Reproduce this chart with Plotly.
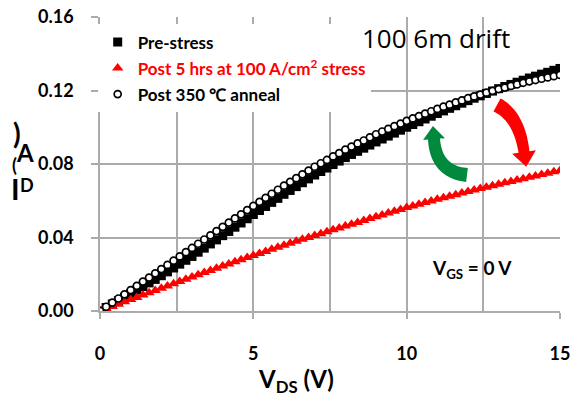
import plotly.graph_objects as go

# ---------------- data ----------------
vds = [0.0, 0.2, 0.4, 0.6, 0.8, 1.0, 1.2, 1.4, 1.6, 1.8,
       2.0, 2.2, 2.4, 2.6, 2.8, 3.0, 3.2, 3.4, 3.6, 3.8,
       4.0, 4.2, 4.4, 4.6, 4.8, 5.0, 5.2, 5.4, 5.6, 5.8,
       6.0, 6.2, 6.4, 6.6, 6.8, 7.0, 7.2, 7.4, 7.6, 7.8,
       8.0, 8.2, 8.4, 8.6, 8.8, 9.0, 9.2, 9.4, 9.6, 9.8,
       10.0, 10.2, 10.4, 10.6, 10.8, 11.0, 11.2, 11.4, 11.6, 11.8,
       12.0, 12.2, 12.4, 12.6, 12.8, 13.0, 13.2, 13.4, 13.6, 13.8,
       14.0, 14.2, 14.4, 14.6, 14.8, 15.0]

pre_stress = [0.0000, 0.0019, 0.0038, 0.0056, 0.0075, 0.0094, 0.0114, 0.0133, 0.0153, 0.0172,
              0.0192, 0.0213, 0.0234, 0.0255, 0.0276, 0.0297, 0.0320, 0.0342, 0.0365, 0.0387,
              0.0410, 0.0433, 0.0456, 0.0479, 0.0502, 0.0525, 0.0547, 0.0569, 0.0591, 0.0613,
              0.0635, 0.0656, 0.0677, 0.0698, 0.0719, 0.0740, 0.0759, 0.0778, 0.0797, 0.0816,
              0.0835, 0.0852, 0.0869, 0.0886, 0.0903, 0.0920, 0.0936, 0.0952, 0.0968, 0.0984,
              0.1000, 0.1015, 0.1030, 0.1045, 0.1060, 0.1075, 0.1089, 0.1103, 0.1117, 0.1131,
              0.1145, 0.1158, 0.1171, 0.1184, 0.1197, 0.1210, 0.1222, 0.1233, 0.1245, 0.1256,
              0.1268, 0.1278, 0.1289, 0.1299, 0.1310, 0.1320]

post_stress = [0.0000, 0.0012, 0.0025, 0.0037, 0.0050, 0.0062, 0.0074, 0.0087, 0.0099, 0.0112,
               0.0124, 0.0136, 0.0148, 0.0161, 0.0173, 0.0185, 0.0197, 0.0209, 0.0221, 0.0233,
               0.0245, 0.0256, 0.0268, 0.0279, 0.0291, 0.0302, 0.0313, 0.0324, 0.0336, 0.0347,
               0.0358, 0.0369, 0.0379, 0.0390, 0.0400, 0.0411, 0.0421, 0.0431, 0.0442, 0.0452,
               0.0462, 0.0472, 0.0482, 0.0493, 0.0503, 0.0513, 0.0523, 0.0533, 0.0543, 0.0553,
               0.0563, 0.0572, 0.0581, 0.0590, 0.0599, 0.0608, 0.0616, 0.0625, 0.0633, 0.0642,
               0.0650, 0.0658, 0.0666, 0.0674, 0.0682, 0.0690, 0.0698, 0.0705, 0.0713, 0.0720,
               0.0728, 0.0735, 0.0743, 0.0750, 0.0758, 0.0765]

post_anneal = [0.0000, 0.0023, 0.0046, 0.0068, 0.0091, 0.0114, 0.0137, 0.0160, 0.0182, 0.0205,
               0.0228, 0.0251, 0.0274, 0.0297, 0.0320, 0.0343, 0.0366, 0.0389, 0.0412, 0.0435,
               0.0458, 0.0481, 0.0504, 0.0526, 0.0549, 0.0572, 0.0594, 0.0616, 0.0638, 0.0660,
               0.0682, 0.0703, 0.0723, 0.0744, 0.0764, 0.0785, 0.0804, 0.0822, 0.0841, 0.0859,
               0.0878, 0.0895, 0.0912, 0.0928, 0.0945, 0.0962, 0.0977, 0.0991, 0.1006, 0.1020,
               0.1035, 0.1048, 0.1061, 0.1074, 0.1087, 0.1100, 0.1112, 0.1123, 0.1135, 0.1146,
               0.1158, 0.1168, 0.1178, 0.1188, 0.1198, 0.1208, 0.1216, 0.1225, 0.1233, 0.1242,
               0.1250, 0.1257, 0.1264, 0.1271, 0.1278, 0.1285]

x_ticks = [0, 5, 10, 15]
y_ticks = [0.00, 0.04, 0.08, 0.12, 0.16]
y_tick_text = ["0.00", "0.04", "0.08", "0.12", "0.16"]

names = ["Pre-stress",
         '<span style="color:#ff0000">Post 5 hrs at 100 A/cm<sup>2</sup> stress</span>',
         "Post 350 \u2103 anneal"]

# ---------------- layout helpers ----------------
W, H = 571, 399
L, R, T, B = 100, 560, 17, 311
GRID = "#ababab"
FONT = "Lato"


def px(x, y):
    return (x - L) / (R - L), (B - y) / (B - T)


def bez(p0, p1, p2, n=24):
    pts = []
    for i in range(n + 1):
        t = i / n
        x = (1 - t) ** 2 * p0[0] + 2 * (1 - t) * t * p1[0] + t ** 2 * p2[0]
        y = (1 - t) ** 2 * p0[1] + 2 * (1 - t) * t * p1[1] + t ** 2 * p2[1]
        pts.append((x, y))
    return pts


def arrow_path(p0, p1, p2, w0, w1, head_w, head_len):
    pts = bez(p0, p1, p2)
    left, right = [], []
    n = len(pts)
    for i, (x, y) in enumerate(pts):
        if i < n - 1:
            dx, dy = pts[i + 1][0] - x, pts[i + 1][1] - y
        else:
            dx, dy = x - pts[i - 1][0], y - pts[i - 1][1]
        d = (dx * dx + dy * dy) ** 0.5
        nx, ny = -dy / d, dx / d
        w = (w0 + (w1 - w0) * i / (n - 1)) / 2
        left.append((x + nx * w, y + ny * w))
        right.append((x - nx * w, y - ny * w))
    ex, ey = pts[-1]
    dx, dy = ex - pts[-2][0], ey - pts[-2][1]
    d = (dx * dx + dy * dy) ** 0.5
    ux, uy = dx / d, dy / d
    nx, ny = -uy, ux
    hl = (ex + nx * head_w / 2, ey + ny * head_w / 2)
    hr = (ex - nx * head_w / 2, ey - ny * head_w / 2)
    tip = (ex + ux * head_len, ey + uy * head_len)
    poly = left + [hl, tip, hr] + right[::-1]
    s = ""
    for i, (x, y) in enumerate(poly):
        a, b = px(x, y)
        s += ("M" if i == 0 else "L") + f"{a:.4f},{b:.4f} "
    return s + "Z"


fig = go.Figure()

fig.add_trace(go.Scatter(
    x=vds, y=pre_stress, mode="markers", name=names[0], legendgroup="a",
    marker=dict(symbol="square", size=9, color="black", line=dict(width=0))))
fig.add_trace(go.Scatter(
    x=vds, y=post_stress, mode="markers", name=names[1], legendgroup="b",
    marker=dict(symbol="triangle-up", size=10, color="#ff0000", line=dict(width=0))))
fig.add_trace(go.Scatter(
    x=vds, y=post_anneal, mode="markers", name=names[2], legendgroup="c",
    marker=dict(symbol="circle", size=7, color="white", line=dict(width=1.7, color="black"))))

shapes = [
    dict(type="path", xref="paper", yref="paper", layer="above",
         path=arrow_path((497, 105), (519, 116), (524, 152), 15, 11, 24, 15),
         fillcolor="#ff0000", line=dict(width=0)),
    dict(type="path", xref="paper", yref="paper", layer="above",
         path=arrow_path((467, 175), (436, 172), (434, 139), 14, 12, 22, 13),
         fillcolor="#00893c", line=dict(width=0)),
]


def ann(text, x, y, size, bold=True, font=FONT, color="black", xanchor="center"):
    a, b = px(x, y)
    return dict(text=text, x=a, y=b, xref="paper", yref="paper", showarrow=False,
                xanchor=xanchor, yanchor="middle",
                font=dict(family=font, size=size, color=color,
                          weight="bold" if bold else "normal"))


annotations = [
    ann("100 6m drift", 436, 38, 26, bold=False, font="Open Sans"),
    ann("V<sub>GS</sub> = 0 V", 472, 269, 19),
    ann("V<sub>DS</sub> (V)", 296, 380, 24),
    # (garbled) y-axis title as it appears in the original
    ann(")", 17, 133, 28),
    ann("A", 25, 152, 24),
    ann("(", 14, 165, 18),
    ann("I", 15, 188, 29),
    ann("D", 27, 185, 18),
]

fig.update_layout(
    width=W, height=H,
    margin=dict(l=L, r=W - R, t=T, b=H - B, autoexpand=False),
    paper_bgcolor="white", plot_bgcolor="white",
    font=dict(family=FONT, size=17, color="black"),
    showlegend=True,
    legend=dict(x=-0.005, y=0.975, xanchor="left", yanchor="top",
                bgcolor="white", borderwidth=0, tracegroupgap=1,
                font=dict(family=FONT, size=17, color="black", weight="bold"),
                itemwidth=30),
    xaxis=dict(range=[0, 15], tickvals=x_ticks, ticks="outside", ticklen=6,
               tickcolor=GRID, tickwidth=1.5, automargin=False,
               showgrid=True, gridcolor=GRID, gridwidth=1.5,
               minor=dict(dtick=2.5, showgrid=True, gridcolor=GRID, gridwidth=1.5),
               showline=True, linecolor=GRID, linewidth=1.5, mirror=False,
               zeroline=False, ticklabelstandoff=20,
               tickfont=dict(family=FONT, size=18, weight="bold", color="black")),
    yaxis=dict(range=[0, 0.16], tickvals=y_ticks, ticktext=y_tick_text,
               ticks="outside", ticklen=7, tickcolor=GRID, tickwidth=1.5,
               showgrid=True, gridcolor=GRID, gridwidth=1.5, automargin=False,
               showline=True, linecolor=GRID, linewidth=1.5,
               zeroline=False, ticklabelstandoff=14,
               tickfont=dict(family=FONT, size=18, weight="bold", color="black")),
    shapes=shapes,
    annotations=annotations,
)

fig.write_html("out.html")
